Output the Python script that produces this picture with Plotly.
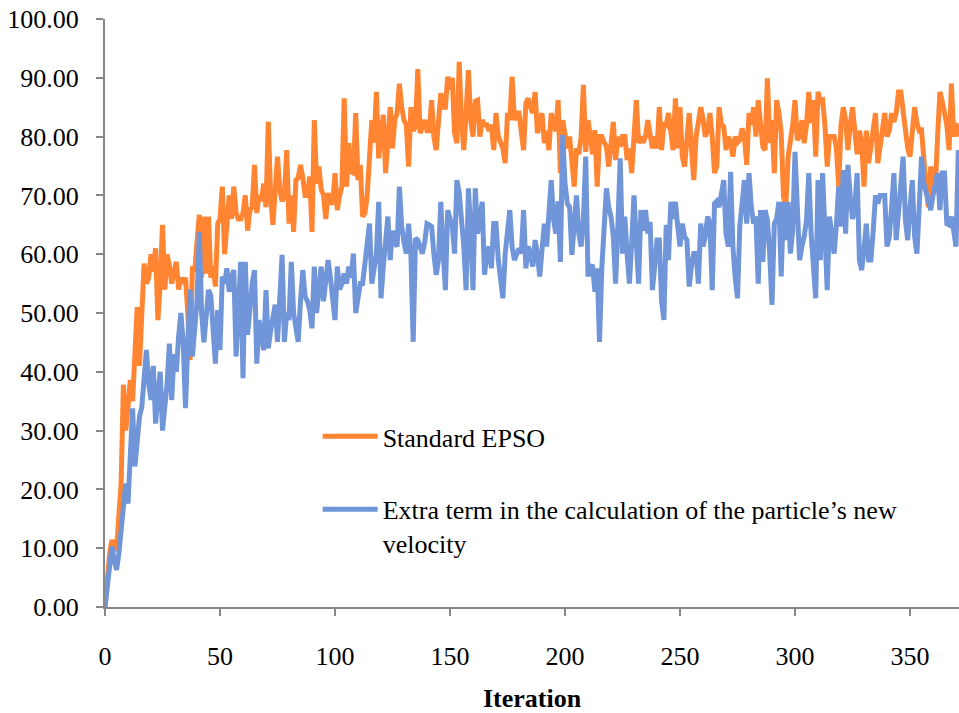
import plotly.graph_objects as go

standard_epso = [
    0, 5, 9, 11.4, 10, 9.7, 15, 21, 37.8, 30,
    34, 38.6, 35, 45, 51, 41, 50, 58.4, 55, 56,
    60, 57, 61, 48.8, 55, 65, 54, 60, 58, 55,
    57, 58.7, 54, 56, 55, 56, 50, 42, 57.9, 57,
    62, 66.7, 56, 66.4, 56.7, 66.4, 56, 58, 54.5, 65.2,
    66, 71.5, 60, 64, 70, 66, 71.5, 67, 66, 66,
    67, 70, 64, 67.5, 68, 75.2, 67, 70, 69, 72,
    68, 82.5, 70, 65, 71, 76.6, 71, 69, 70, 77.7,
    65.2, 70, 63.8, 72.6, 73, 75.2, 73, 70, 70, 73.2,
    63.8, 82.8, 72, 74.9, 71, 70, 66, 70.4, 69, 68.5,
    73.8, 67.5, 70, 71.5, 86.5, 71.5, 78.9, 74, 73.8, 84,
    72.6, 75.2, 66.4, 67, 70, 78.3, 82.8, 79, 87.6, 76.3,
    80, 83.7, 73.8, 80, 85, 78, 82.8, 84, 89, 85,
    82.8, 82, 74.9, 85, 81, 81.7, 91.5, 80.6, 82, 82.8,
    81, 81, 86.2, 80, 77.7, 82, 87.4, 85, 85, 90.2,
    88, 90, 80.6, 78.9, 92.7, 82.8, 77.7, 84, 91.3, 82.8,
    80, 86, 86.2, 80, 82.8, 82, 82, 81, 82, 77.7,
    84, 80, 79, 78, 75.5, 84, 82.8, 90.2, 82.8, 84,
    84, 80, 77.7, 85.7, 86.5, 85, 84, 87.6, 80.6, 82,
    84, 78.9, 81, 77.7, 84, 82, 81, 86.2, 73.8, 82.8,
    80, 78, 80, 74.9, 71.5, 78, 77, 80, 88.8, 77.4,
    82.8, 80, 77, 81.1, 71.5, 80, 80, 79, 78.3, 74.9,
    78, 82.5, 76, 80, 78.3, 80, 80, 76, 78, 73.8,
    80, 86.2, 78.9, 80, 79, 80, 82.8, 80, 78, 80,
    78, 85, 77.7, 82.3, 82, 84, 80, 77.7, 86.5, 78,
    85, 76.6, 74.9, 80, 84, 78, 72.6, 80, 82.8, 85,
    83, 80, 81, 84, 80, 73.8, 75, 85, 82, 81.7,
    77.7, 80, 79, 76.6, 80, 79, 79.4, 81.4, 80, 75.2,
    84, 82, 85, 80, 86.2, 82, 78.3, 77.7, 89.9, 78.9,
    82.8, 73.8, 86.2, 84, 80.6, 69.8, 68, 76.6, 78.9, 82,
    86.2, 79.4, 80, 82.8, 78.9, 82, 87.6, 82.3, 86.2, 76.6,
    87.6, 86, 86.2, 82, 74.9, 80, 80, 80, 78, 71.5,
    82, 85, 82.8, 77.7, 82, 85, 81, 77, 81, 79,
    71.5, 81, 75.5, 78.3, 80, 84, 75.5, 78, 80.6, 84,
    80, 81, 84, 82.5, 84, 87.6, 87.6, 84, 81.7, 78,
    76.6, 82, 85, 82.3, 81, 81.1, 75, 71.5, 68, 74.9,
    73, 71.5, 80, 87.6, 86, 84, 82, 77.7, 89, 80,
    82.3, 80,
]

extra_term = [
    0, 4, 8, 10.3, 8, 6.3, 9, 12.5, 16, 21,
    17.6, 26, 33.8, 23.9, 29, 32.4, 34, 38, 43.7, 38,
    35.2, 41, 31.2, 36, 40, 30, 34, 38, 44.8, 35.2,
    43, 40, 46, 50, 45, 33.8, 45, 54, 42.6, 46.5,
    52, 63.8, 50, 45, 50, 53.9, 53, 48, 41.4, 50.5,
    43.7, 56.2, 55, 57.6, 53.6, 56, 57.3, 42.6, 50, 58.7,
    38.9, 58.7, 46.3, 52, 55, 57.3, 41.4, 48.8, 46, 43.7,
    53.9, 44, 47, 48.8, 51.4, 45.1, 52, 59.9, 45.1, 50,
    48.8, 58.7, 50, 48, 45.1, 52, 57.3, 52.8, 52, 50.5,
    47.4, 57.9, 50, 54, 57.9, 52, 55, 59, 56, 52.2,
    48.8, 57.9, 54, 55, 56.7, 55, 57.9, 56, 60.1, 50,
    53, 55, 55, 58.4, 60, 65.2, 55, 58, 60.1, 68.9,
    52.5, 58, 63.5, 66.4, 59, 64, 62, 61.3, 71.5, 64.7,
    62, 60.1, 65.2, 60, 45.1, 62.7, 62.4, 61, 60.1, 62,
    65.2, 65, 64.7, 60, 56.5, 59, 68.9, 60.7, 53.9, 67.5,
    66, 64.7, 60.1, 72.6, 70.4, 66, 61.3, 53.9, 71.2, 64,
    53.9, 71.2, 63.5, 66, 68.9, 56.5, 60, 61.3, 57.6, 65.2,
    65.2, 59, 56, 52.5, 60.1, 64, 67.5, 61.3, 59, 60,
    61, 60.1, 67.5, 57.6, 61.3, 60, 57.9, 62.4, 60, 56.2,
    62, 65.2, 61.3, 67, 72.6, 66, 63.5, 69, 58.7, 80.3,
    72, 68.6, 68, 59.9, 65, 70, 63.5, 61.3, 66, 76.6,
    56.2, 58, 57.9, 53.6, 57.6, 45.1, 57.6, 64.1, 71.2, 68,
    66.4, 63, 55, 65, 76.3, 60.1, 66.4, 60, 55, 62,
    70, 62, 55, 67.5, 64, 67.5, 63.5, 65.5, 53.9, 58,
    62.4, 62.4, 52, 48.8, 65, 59, 68.9, 66, 68.9, 64.7,
    61.3, 65.2, 63, 62.4, 54.5, 58, 60.1, 60.1, 55, 65.2,
    61.3, 63, 66.4, 65.2, 53.9, 68.6, 69, 68, 70.9, 72.6,
    63.5, 61.3, 74, 61.3, 56, 52.5, 64.7, 70, 72.6, 65.2,
    73.8, 68, 65.2, 66.4, 55, 67.5, 58.7, 67.5, 65.8, 60,
    51.4, 65.2, 66, 68.9, 56.2, 68.9, 62.4, 68.9, 60.1, 64,
    77.4, 68, 59, 61.3, 63, 65.8, 73.8, 63.5, 58, 52.5,
    72.6, 59, 73.8, 64, 53.9, 66.4, 63, 60.1, 65, 71.5,
    64.7, 74.3, 63.5, 75.2, 70, 66, 68, 73.8, 59, 57.3,
    61, 65.2, 59, 59, 64, 70, 68.6, 70, 70, 70,
    61.3, 63, 68, 73.8, 62.4, 68, 72, 76.6, 65.8, 62.4,
    68, 72.6, 63, 60.1, 68, 76.6, 72, 70.4, 68.6, 67.5,
    70, 72.6, 73.8, 67.5, 73.8, 73.8, 65.2, 65, 66.4, 64,
    61.3, 77.7,
]

iterations = list(range(len(standard_epso)))

x_ticks = [0, 50, 100, 150, 200, 250, 300, 350]
y_ticks = [0, 10, 20, 30, 40, 50, 60, 70, 80, 90, 100]

series_names = [
    "Standard EPSO",
    "Extra term in the calculation of the particle\u2019s new<br>velocity",
]

FONT = "Liberation Serif, Times New Roman, serif"
AXIS_COLOR = "#868686"

fig = go.Figure()
fig.add_trace(go.Scatter(
    x=iterations, y=standard_epso, mode="lines", name=series_names[0],
    line=dict(color="#FF8533", width=5), legendgroup="a",
))
fig.add_trace(go.Scatter(
    x=iterations, y=extra_term, mode="lines", name=series_names[1],
    line=dict(color="#7095D9", width=5), legendgroup="b",
))

fig.update_layout(
    width=959, height=713,
    margin=dict(l=105, r=0, t=19, b=106),
    paper_bgcolor="white", plot_bgcolor="white",
    font=dict(family=FONT, size=26, color="black"),
    showlegend=True,
    legend=dict(
        x=0.249, y=0.33, xanchor="left", yanchor="top",
        bgcolor="rgba(0,0,0,0)", font=dict(family=FONT, size=26, color="black"),
        tracegroupgap=36, valign="top", itemwidth=55,
    ),
    xaxis=dict(
        range=[0, 371.3], tickvals=x_ticks, ticktext=[str(v) for v in x_ticks],
        showgrid=False, zeroline=False, showline=True, linecolor=AXIS_COLOR, linewidth=2,
        ticks="outside", ticklen=7, tickwidth=2, tickcolor=AXIS_COLOR,
        ticklabelstandoff=18,
        title=dict(text="<b>Iteration</b>", font=dict(family=FONT, size=26), standoff=22),
    ),
    yaxis=dict(
        range=[0, 100], tickvals=y_ticks, ticktext=[f"{v:.2f}" for v in y_ticks],
        showgrid=False, zeroline=False, showline=True, linecolor=AXIS_COLOR, linewidth=2,
        ticks="outside", ticklen=7, tickwidth=2, tickcolor=AXIS_COLOR,
        ticklabelstandoff=12,
    ),
)

fig.write_html("out.html")
